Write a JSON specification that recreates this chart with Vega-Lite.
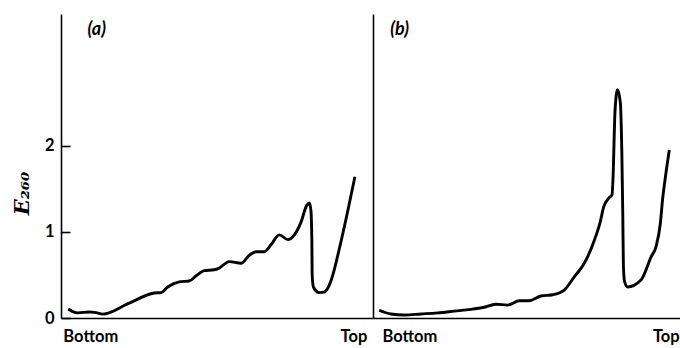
{
  "$schema": "https://vega.github.io/schema/vega-lite/v6.json",
  "padding": {"left": 11, "top": 14, "right": 0, "bottom": 0},
  "spacing": 0,
  "config": {
    "view": {"stroke": null},
    "axis": {
      "grid": false,
      "domainColor": "black",
      "domainWidth": 1.6,
      "tickColor": "black",
      "tickWidth": 1.6,
      "labelFont": "Lato",
      "labelFontWeight": "bold",
      "labelFontSize": 16.5,
      "labelColor": "black"
    },
    "text": {"font": "Lato", "fontStyle": "italic", "fontWeight": "bold", "fontSize": 18, "color": "black"}
  },
  "datasets": {
    "gradientA": [
      {"position": 0.023, "E": 0.105},
      {"position": 0.038, "E": 0.075},
      {"position": 0.054, "E": 0.06},
      {"position": 0.091, "E": 0.07},
      {"position": 0.107, "E": 0.066},
      {"position": 0.134, "E": 0.045},
      {"position": 0.215, "E": 0.166},
      {"position": 0.299, "E": 0.29},
      {"position": 0.321, "E": 0.295},
      {"position": 0.342, "E": 0.36},
      {"position": 0.379, "E": 0.42},
      {"position": 0.411, "E": 0.43},
      {"position": 0.433, "E": 0.49},
      {"position": 0.459, "E": 0.55},
      {"position": 0.491, "E": 0.56},
      {"position": 0.507, "E": 0.58},
      {"position": 0.539, "E": 0.655},
      {"position": 0.577, "E": 0.635},
      {"position": 0.604, "E": 0.73},
      {"position": 0.625, "E": 0.77},
      {"position": 0.652, "E": 0.77},
      {"position": 0.673, "E": 0.85},
      {"position": 0.7, "E": 0.965},
      {"position": 0.727, "E": 0.91},
      {"position": 0.748, "E": 0.965},
      {"position": 0.769, "E": 1.11},
      {"position": 0.788, "E": 1.31},
      {"position": 0.796, "E": 1.335},
      {"position": 0.801, "E": 1.25},
      {"position": 0.804, "E": 0.9},
      {"position": 0.805, "E": 0.5},
      {"position": 0.809, "E": 0.36},
      {"position": 0.827, "E": 0.295},
      {"position": 0.843, "E": 0.3},
      {"position": 0.855, "E": 0.345},
      {"position": 0.867, "E": 0.45},
      {"position": 0.895, "E": 0.85},
      {"position": 0.942, "E": 1.64}
    ],
    "gradientB": [
      {"position": 0.02, "E": 0.09},
      {"position": 0.058, "E": 0.047},
      {"position": 0.102, "E": 0.035},
      {"position": 0.156, "E": 0.047},
      {"position": 0.21, "E": 0.06},
      {"position": 0.264, "E": 0.08},
      {"position": 0.318, "E": 0.1},
      {"position": 0.361, "E": 0.125},
      {"position": 0.399, "E": 0.16},
      {"position": 0.437, "E": 0.15},
      {"position": 0.475, "E": 0.2},
      {"position": 0.507, "E": 0.2},
      {"position": 0.545, "E": 0.255},
      {"position": 0.583, "E": 0.27},
      {"position": 0.621, "E": 0.325},
      {"position": 0.654, "E": 0.48},
      {"position": 0.686, "E": 0.635},
      {"position": 0.719, "E": 0.905},
      {"position": 0.738, "E": 1.12},
      {"position": 0.749, "E": 1.29},
      {"position": 0.765, "E": 1.39},
      {"position": 0.776, "E": 1.43},
      {"position": 0.779, "E": 1.6},
      {"position": 0.786, "E": 2.42},
      {"position": 0.794, "E": 2.65},
      {"position": 0.803, "E": 2.5},
      {"position": 0.808, "E": 1.9},
      {"position": 0.811, "E": 1.2},
      {"position": 0.813, "E": 0.6},
      {"position": 0.817, "E": 0.42},
      {"position": 0.827, "E": 0.36},
      {"position": 0.87, "E": 0.44},
      {"position": 0.903, "E": 0.71},
      {"position": 0.919, "E": 0.83},
      {"position": 0.933, "E": 1.1},
      {"position": 0.94, "E": 1.37},
      {"position": 0.948, "E": 1.6},
      {"position": 0.962, "E": 1.95}
    ],
    "panelTags": [
      {"panel": "a", "position": 0.085, "E": 3.35, "tag": "(a)"},
      {"panel": "b", "position": 0.056, "E": 3.35, "tag": "(b)"}
    ]
  },
  "hconcat": [
    {
      "width": 312,
      "height": 304,
      "encoding": {
        "x": {
          "field": "position",
          "type": "quantitative",
          "scale": {"domain": [0, 1], "nice": false, "zero": false},
          "axis": {
            "title": null,
            "values": [0.006, 0.98],
            "labelExpr": "datum.value < 0.5 ? 'Bottom' : 'Top'",
            "labelFlush": 10,
            "ticks": false,
            "labelPadding": 10
          }
        },
        "y": {
          "field": "E",
          "type": "quantitative",
          "scale": {"domain": [0, 3.53], "nice": false},
          "axis": {
            "values": [0, 1, 2],
            "format": "d",
            "tickSize": -9,
            "labelPadding": 16,
            "title": "E₂₆₀",
            "titleFont": "DejaVu Serif",
            "titleFontStyle": "italic",
            "titleFontWeight": "bold",
            "titleFontSize": 21,
            "titleColor": "black",
            "titleAngle": -90,
            "titleAlign": "center",
            "titleBaseline": "middle",
            "titleX": -39,
            "titleY": 179
          }
        }
      },
      "layer": [
        {
          "data": {"name": "gradientA"},
          "mark": {"type": "line", "interpolate": "monotone", "color": "black", "strokeWidth": 2.9}
        },
        {
          "data": {"name": "panelTags"},
          "transform": [{"filter": "datum.panel == 'a'"}],
          "mark": {"type": "text", "align": "left", "baseline": "middle"},
          "encoding": {"text": {"field": "tag"}}
        }
      ]
    },
    {
      "width": 308,
      "height": 304,
      "encoding": {
        "x": {
          "field": "position",
          "type": "quantitative",
          "scale": {"domain": [0, 1], "nice": false, "zero": false},
          "axis": {
            "title": null,
            "values": [0.029, 0.994],
            "labelExpr": "datum.value < 0.5 ? 'Bottom' : 'Top'",
            "labelFlush": 10,
            "ticks": false,
            "labelPadding": 10
          }
        },
        "y": {
          "field": "E",
          "type": "quantitative",
          "scale": {"domain": [0, 3.53], "nice": false},
          "axis": {"title": null, "labels": false, "ticks": false}
        }
      },
      "layer": [
        {
          "data": {"name": "gradientB"},
          "mark": {"type": "line", "interpolate": "monotone", "color": "black", "strokeWidth": 2.9}
        },
        {
          "data": {"name": "panelTags"},
          "transform": [{"filter": "datum.panel == 'b'"}],
          "mark": {"type": "text", "align": "left", "baseline": "middle"},
          "encoding": {"text": {"field": "tag"}}
        }
      ]
    }
  ]
}
